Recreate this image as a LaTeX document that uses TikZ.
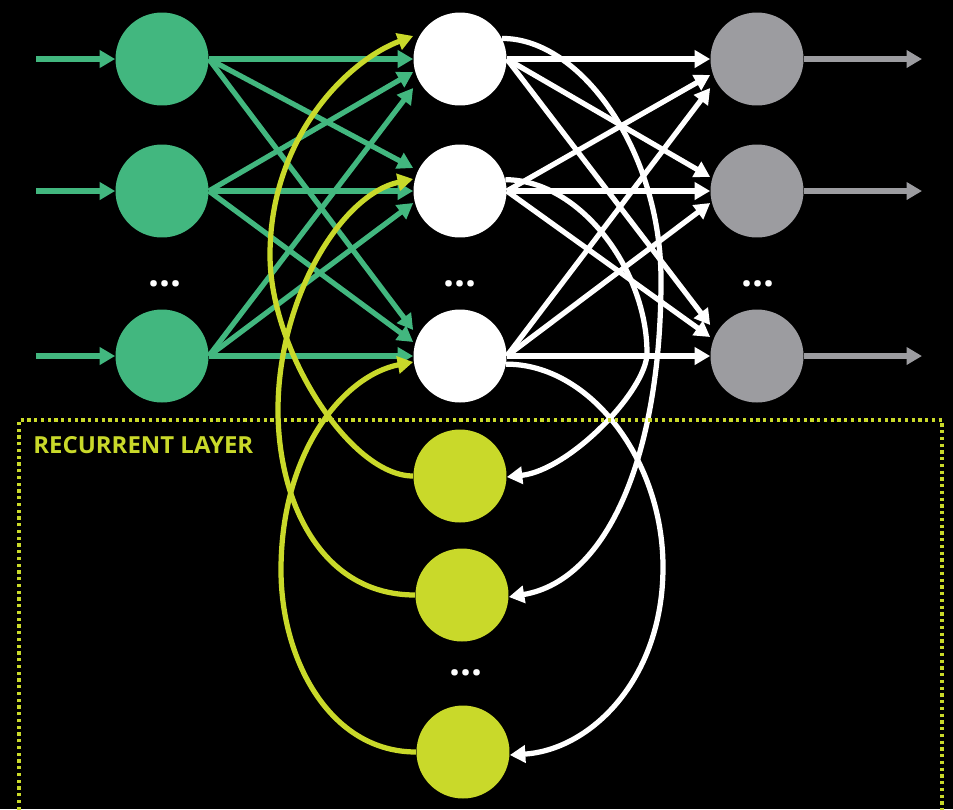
\documentclass[tikz,border=0pt]{standalone}
\usepackage{fontspec}
\usepackage{graphicx}
\setmainfont{Open Sans}
\usetikzlibrary{arrows.meta,calc}
\definecolor{ingreen}{HTML}{42B77F}
\definecolor{outgray}{HTML}{9C9CA0}
\definecolor{recyellow}{HTML}{C9D92A}
\begin{document}
\begin{tikzpicture}[x=0.02cm,y=-0.02cm,
  unit/.style={circle,minimum size=1.86cm,inner sep=0pt,draw=none},
  inunit/.style={unit,fill=ingreen},
  hidunit/.style={unit,fill=white},
  outunit/.style={unit,fill=outgray},
  recunit/.style={unit,fill=recyellow},
  tip/.style={-{Triangle[length=0.31cm,width=0.34cm]}},
  link/.style={tip,line width=0.105cm},
  greenlink/.style={link,draw=ingreen},
  whitelink/.style={link,draw=white},
  graylink/.style={link,line width=0.11cm,draw=outgray},
  yellowlink/.style={link,draw=recyellow},
  framebox/.style={draw=recyellow,line width=0.065cm,dash pattern=on 0.065cm off 0.07cm},
  ellip/.style={text=white,anchor=base,inner sep=0pt,font=\bfseries\fontsize{22}{22}\selectfont},
  caption/.style={text=recyellow,anchor=base west,inner sep=0pt,font=\bfseries}
]
\useasboundingbox (0,0) rectangle (953,809);
\fill[black] (0,0) rectangle (953,809);
\clip (0,0) rectangle (953,809);

% units of the four layers
\node[inunit] (i1) at (162,59) {};
\node[inunit] (i2) at (162,191) {};
\node[inunit] (i3) at (162,356) {};
\node[hidunit] (h1) at (460,59) {};
\node[hidunit] (h2) at (460,191) {};
\node[hidunit] (h3) at (460,356) {};
\node[outunit] (o1) at (757,59) {};
\node[outunit] (o2) at (757,191) {};
\node[outunit] (o3) at (757,356) {};
\node[recunit] (r1) at (460,476) {};
\node[recunit] (r2) at (462,595) {};
\node[recunit] (r3) at (463,752) {};

% free ends of the input and output arrows
\coordinate (a1) at (36,59);
\coordinate (a2) at (36,191);
\coordinate (a3) at (36,356);
\coordinate (b1) at (922,59);
\coordinate (b2) at (922,191);
\coordinate (b3) at (922,356);

% inputs
\foreach \k in {1,2,3}
  \draw[greenlink] (a\k) -- (i\k.west);

% input -> hidden
\foreach \k/\j/\dy in {1/1/0, 2/1/13, 3/1/29, 1/2/-23, 2/2/0, 3/2/12, 1/3/-26, 2/3/-14, 3/3/0}
  \draw[greenlink] (i\k.east) -- ($(h\j.west)+(0,\dy)$);

% recurrent -> hidden (feedback)
\draw[yellowlink] (r1.west) .. controls (350,476) and (270,350) .. (270,255)
  .. controls (270,140) and (345,62) .. ($(h1.west)+(0,-23)$);
\draw[yellowlink] (r2.west) .. controls (320,595) and (278,500) .. (278,410)
  .. controls (278,300) and (340,195) .. ($(h2.west)+(0,-12)$);
\draw[yellowlink] (r3.west) .. controls (330,752) and (281,660) .. (281,570)
  .. controls (281,450) and (345,375) .. ($(h3.west)+(0,6)$);

% hidden -> output
\foreach \k/\j/\dy in {1/1/0, 2/1/16, 3/1/29, 1/2/-14, 2/2/0, 3/2/12, 1/3/-31, 2/3/-19, 3/3/0}
  \draw[whitelink] (h\k.east) -- ($(o\j.west)+(0,\dy)$);

% hidden -> recurrent (copies)
\draw[whitelink] (h1.26) .. controls (580,38) and (661,150) .. (661,280)
  .. controls (661,450) and (610,580) .. ($(r2.east)+(0,2)$);
\draw[whitelink] (h2.14) .. controls (580,180) and (647,270) .. (647,353)
  .. controls (647,390) and (570,470) .. ($(r1.east)+(0,1)$);
\draw[whitelink] (h3.-10) .. controls (590,364) and (663,460) .. (663,567)
  .. controls (663,680) and (590,750) .. ($(r3.east)+(0,3)$);

% outputs
\foreach \k in {1,2,3}
  \draw[graylink] (o\k.east) -- (b\k);

% frame of the recurrent layer
\draw[framebox] (19,830) -- (19,420) -- (942,420) -- (942,830);
\node[caption] (lbl) at (33,453) {\resizebox{4.4cm}{0.34cm}{RECURRENT LAYER}};

% ellipses
\node[ellip] (e1) at (165,286) {...};
\node[ellip] (e2) at (460,286) {...};
\node[ellip] (e3) at (758,286) {...};
\node[ellip] (e4) at (466,675) {...};
\end{tikzpicture}
\end{document}
